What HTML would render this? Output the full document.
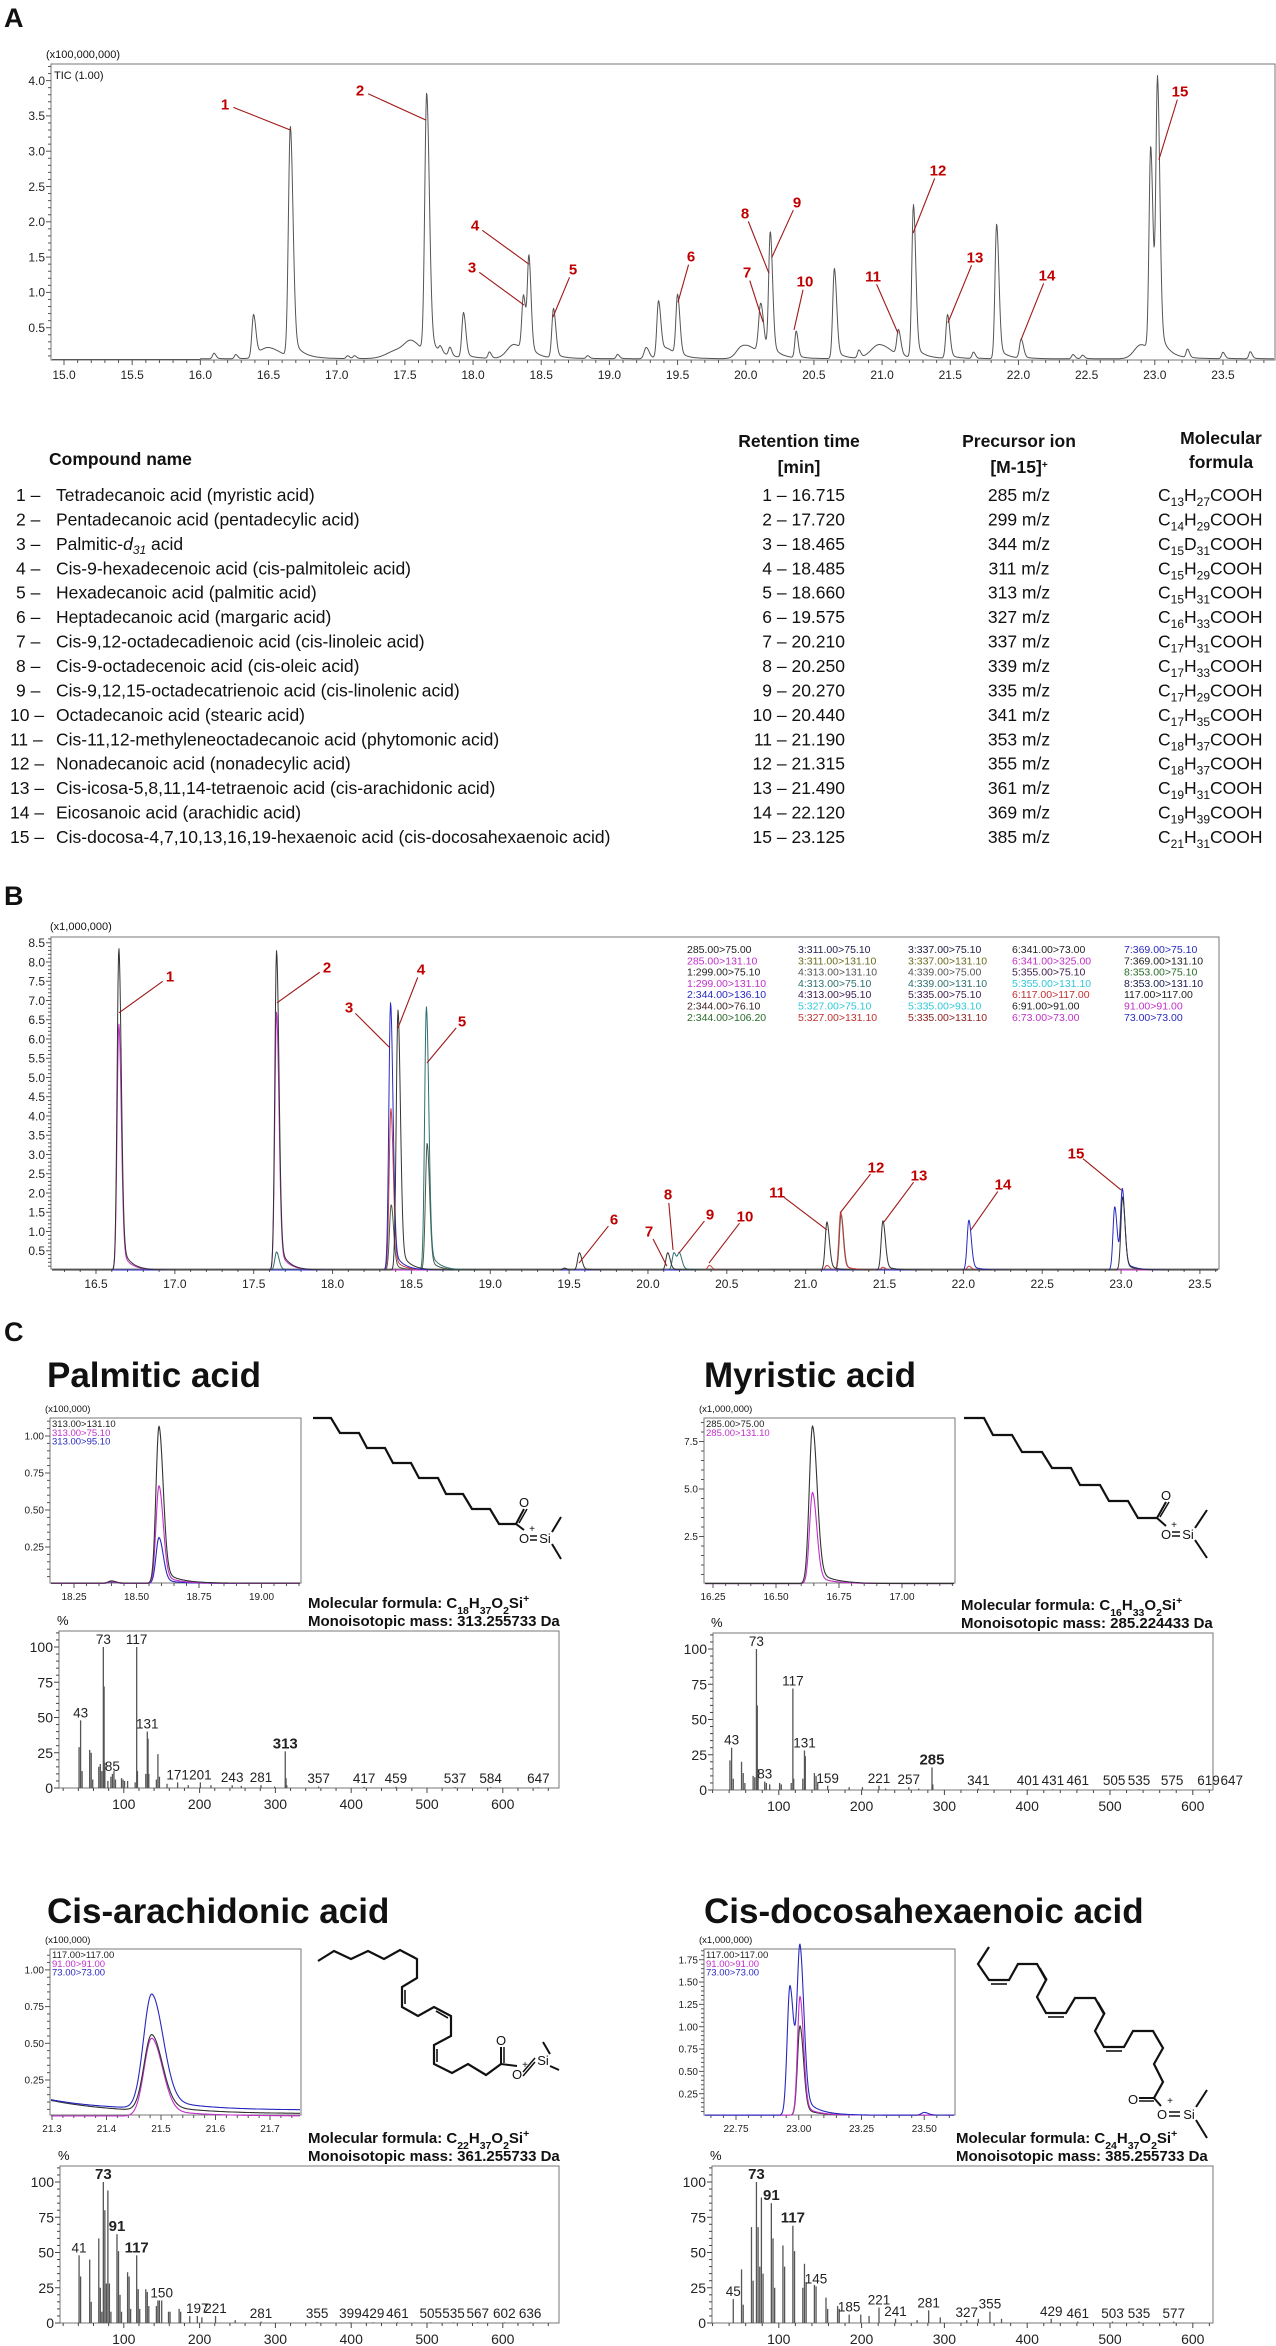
<!DOCTYPE html>
<html><head><meta charset="utf-8">
<style>
html,body{margin:0;padding:0;background:#fff;}
svg{display:block;font-family:"Liberation Sans",Arial,sans-serif;}
</style></head>
<body>
<svg id="fig" width="1276" height="2346" viewBox="0 0 1276 2346" xmlns="http://www.w3.org/2000/svg"></svg>
<script>
// ---------------- DATA ----------------
// Panel A TIC peaks
const A_t = [16.10,16.26,16.39,16.50,16.66,17.08,17.13,17.45,17.55,17.66,17.76,17.83,17.93,18.12,18.30,18.37,18.41,18.59,18.84,19.06,19.27,19.36,19.50,19.42,19.97,20.05,20.11,20.18,20.37,20.65,20.83,20.98,21.12,21.23,21.48,21.67,21.84,22.02,22.40,22.47,22.90,22.97,23.02,23.24,23.50,23.70];
const A_h = [0.08,0.06,0.60,0.15,3.27,0.04,0.04,0.12,0.18,3.69,0.08,0.12,0.64,0.09,0.20,0.78,1.33,0.70,0.04,0.06,0.16,0.78,0.86,0.12,0.14,0.10,0.70,1.74,0.38,1.28,0.11,0.20,0.36,2.17,0.62,0.09,1.91,0.27,0.06,0.05,0.20,2.90,3.80,0.12,0.09,0.10];
const A_w = [0.010,0.010,0.012,0.06,0.014,0.01,0.01,0.08,0.05,0.014,0.01,0.01,0.012,0.01,0.05,0.012,0.011,0.012,0.01,0.01,0.015,0.012,0.012,0.04,0.04,0.06,0.015,0.012,0.010,0.012,0.01,0.06,0.012,0.012,0.012,0.01,0.012,0.012,0.01,0.01,0.05,0.012,0.012,0.01,0.01,0.01];
const A_xticks = [15.0,15.5,16.0,16.5,17.0,17.5,18.0,18.5,19.0,19.5,20.0,20.5,21.0,21.5,22.0,22.5,23.0,23.5];
const A_yticks = [0.5,1.0,1.5,2.0,2.5,3.0,3.5,4.0];
const A_lab_t = [16.66,17.655,18.374,18.41,18.586,19.503,20.127,20.17,20.19,20.354,21.117,21.227,21.483,22.019,23.03];
const A_lab_v = [3.30,3.44,0.82,1.40,0.65,0.86,0.58,1.27,1.49,0.47,0.42,1.84,0.57,0.33,2.88];

// Panel B MRM peaks per colour series
const B_t_black = [16.645,17.645,18.415,19.47,19.565,20.125,21.135,21.49,23.01];
const B_h_black = [8.37,8.30,6.75,0.05,0.45,0.45,1.25,1.28,1.9];
const B_t_mag = [16.645,17.645];
const B_h_mag = [6.4,6.7];
const B_t_blue = [18.368,22.035,22.96,23.008];
const B_h_blue = [6.95,1.3,1.65,2.05];
const B_t_teal = [17.645,18.595,20.165,20.2];
const B_h_teal = [0.47,6.85,0.45,0.4];
const B_t_red = [18.37,20.39,21.135,21.222,21.49,22.035];
const B_h_red = [4.2,0.12,0.12,1.5,0.07,0.1];
const B_t_dark = [18.372,18.6,21.225];
const B_h_dark = [1.7,3.3,1.45];
const B_xticks = [16.5,17.0,17.5,18.0,18.5,19.0,19.5,20.0,20.5,21.0,21.5,22.0,22.5,23.0,23.5];
const B_yticks = [0.5,1.0,1.5,2.0,2.5,3.0,3.5,4.0,4.5,5.0,5.5,6.0,6.5,7.0,7.5,8.0,8.5];
const B_lab_t = [16.646,17.648,18.364,18.415,18.599,19.563,20.12,20.159,20.197,20.387,21.135,21.218,21.497,22.048,23.0];
const B_lab_v = [6.68,6.94,5.77,6.29,5.38,0.18,0.1,0.52,0.44,0.18,1.04,1.48,1.25,1.04,2.08];

// Panel C insets
const pal_ic_t = [18.40,18.59];
const pal_ic_black = [0.015,1.06];
const pal_ic_mag = [0.012,0.66];
const pal_ic_blue = [0.01,0.31];
const myr_ic_t = [16.645];
const myr_ic_black = [8.3];
const myr_ic_mag = [4.8];
const ara_ic_t = [21.483];
const ara_ic_blue = [0.78];
const ara_ic_black = [0.52];
const ara_ic_mag = [0.53];
const dha_ic_t = [22.965,23.005,23.50];
const dha_ic_blue = [1.45,1.80,0.03];
const dha_ic_mag = [0,1.33,0];
const dha_ic_black = [0,1.0,0];

// Panel C mass spectra
const pal_mz = [41,43,45,55,57,59,67,69,71,73,
  74,75,79,83,85,87,89,97,99,101,
  105,115,117,118,129,131,132,133,143,145,
  147,157,171,185,201,215,243,255,281,299,
  313,314,315,357,417,459,537,584,647];
const pal_int = [29,48,12,27,25,6,15,17,12,100,
  72,18,5,8,10,12,6,7,6,5,
  5,4,100,12,10,40,35,10,6,24,
  8,3,4,2,4,2,2,1.5,2,1,
  26,7,2,1,0.8,0.8,0.6,0.6,0.5];
const pal_lab = [43,73,85,117,131,171,201,243,281,313,357,417,459,537,584,647];
const pal_bold = [313];

const myr_mz = [41,43,45,55,57,59,69,71,73,74,
  75,83,85,89,101,103,115,117,118,129,
  131,132,143,145,147,159,185,201,221,229,
  257,269,285,286,341,401,431,461,505,535,
  575,619,647];
const myr_int = [21,30,8,20,12,5,10,9,100,60,
  15,6,5,4,5,4,5,72,8,8,
  28,24,12,10,5,3,2,2,3,1,
  2,1,16,4,1,0.5,0.5,0.5,0.5,0.5,
  0.5,0.5,0.5];
const myr_lab = [43,73,83,117,131,159,221,257,285,341,401,431,461,505,535,575,619,647];
const myr_bold = [285];

const ara_mz = [41,43,55,57,67,69,71,73,75,77,
  79,81,83,91,93,95,97,105,107,109,
  117,119,121,129,131,133,143,145,147,150,
  159,161,173,175,187,197,203,221,247,281,
  355,399,429,461,505,535,567,602,636];
const ara_int = [48,33,45,15,60,25,8,100,80,28,
  94,28,8,63,51,20,8,36,33,10,
  48,24,10,24,22,12,12,16,16,16,
  8,8,10,8,5,5,4,5,2,1,
  0.8,0.5,0.5,0.5,0.5,0.5,0.5,0.5,0.5];
const ara_lab = [41,73,91,117,150,197,221,281,355,399,429,461,505,535,567,602,636];
const ara_bold = [73,91,117];

const dha_mz = [45,55,57,67,69,73,75,77,79,81,
  91,93,95,105,107,117,119,129,131,133,
  143,145,157,159,171,173,185,199,209,221,
  241,267,281,295,327,341,355,369,429,461,
  503,535,577];
const dha_int = [17,38,13,68,30,100,68,40,89,35,
  85,60,25,55,40,69,51,25,42,29,
  27,26,18,10,12,10,6,6,5,11,
  3,2,9,4,2,3,8,3,3,1,
  1,1,1];
const dha_lab = [45,73,91,117,145,185,221,241,281,327,355,429,461,503,535,577];
const dha_bold = [73,91,117];

// Table
const tbl_names = ["Tetradecanoic acid (myristic acid)","Pentadecanoic acid (pentadecylic acid)","Palmitic-d31 acid","Cis-9-hexadecenoic acid (cis-palmitoleic acid)","Hexadecanoic acid (palmitic acid)","Heptadecanoic acid (margaric acid)","Cis-9,12-octadecadienoic acid (cis-linoleic acid)","Cis-9-octadecenoic acid (cis-oleic acid)","Cis-9,12,15-octadecatrienoic acid (cis-linolenic acid)","Octadecanoic acid (stearic acid)","Cis-11,12-methyleneoctadecanoic acid (phytomonic acid)","Nonadecanoic acid (nonadecylic acid)","Cis-icosa-5,8,11,14-tetraenoic acid (cis-arachidonic acid)","Eicosanoic acid (arachidic acid)","Cis-docosa-4,7,10,13,16,19-hexaenoic acid (cis-docosahexaenoic acid)"];
const tbl_rt = ["16.715","17.720","18.465","18.485","18.660","19.575","20.210","20.250","20.270","20.440","21.190","21.315","21.490","22.120","23.125"];
const tbl_ion = [285,299,344,311,313,327,337,339,335,341,353,355,361,369,385];
const tbl_formula = ["C13H27COOH","C14H29COOH","C15D31COOH","C15H29COOH","C15H31COOH","C16H33COOH","C17H31COOH","C17H33COOH","C17H29COOH","C17H35COOH","C18H37COOH","C18H37COOH","C19H31COOH","C19H39COOH","C21H31COOH"];

// ---------------- HELPERS ----------------
const NS = 'http://www.w3.org/2000/svg';
const svg = document.getElementById('fig');
function mk(tag, attrs, parent){
  const e = document.createElementNS(NS, tag);
  for (const k in attrs) e.setAttribute(k, attrs[k]);
  (parent || svg).appendChild(e);
  return e;
}
function grp(name, parent){
  const g = mk('g', {}, parent);
  
  
  return g;
}
function txt(parent, x, y, s, size, opts){
  opts = opts || {};
  const t = mk('text', {x:x, y:y, 'font-size':size, fill:opts.fill||'#111', 'text-anchor':opts.anchor||'start', 'font-weight':opts.weight||'normal'}, parent);
  t.textContent = s;
  
  
  return t;
}
function shape(d){
  return d < 0 ? Math.exp(-d*d/2) : 0.9*Math.exp(-d*d/(2*1.96)) + 0.1*Math.exp(-d/5);
}
function trace(parent, times, heights, w, xf, xinv, yf, px0, px1, base, color, sw, name){
  let d = '';
  for (let px = px0; px <= px1; px += 0.5){
    const t = xinv(px);
    let v = base(t);
    for (let i = 0; i < times.length; i++){
      const ww = Array.isArray(w) ? w[i] : w;
      v += heights[i] * shape((t - times[i]) / ww);
    }
    d += (d ? 'L' : 'M') + px.toFixed(1) + ' ' + yf(v).toFixed(1);
  }
  const p = mk('path', {d:d, fill:'none', stroke:color, 'stroke-width':sw, 'stroke-linejoin':'round'}, parent);
  
  
  return p;
}
function axes(parent, box, xf, yf, xMaj, xMinStep, xLo, xHi, xFmt, yMaj, yMinStep, yLo, yHi, yFmt, fs, tickCol){
  const c = tickCol || '#555';
  const r = mk('rect', {x:box.l, y:box.t, width:box.r-box.l, height:box.b-box.t, fill:'none', stroke:'#777', 'stroke-width':1}, parent);
  
  
  const nX = Math.round((xHi - xLo) / xMinStep);
  for (let i = 0; i <= nX; i++){
    const t = xLo + i * xMinStep, x = xf(t);
    if (x < box.l - 0.5 || x > box.r + 0.5) continue;
    const major = xMaj.some(m => Math.abs(m - t) < xMinStep/10);
    mk('line', {x1:x, x2:x, y1:box.b, y2:box.b + (major ? 5 : 3), stroke:c, 'stroke-width':1}, parent);
  }
  xMaj.forEach(m => { txt(parent, xf(m), box.b + fs + 7, xFmt(m), fs, {anchor:'middle', fill:'#222', name:'x-tick-label'}); });
  const nY = Math.round((yHi - yLo) / yMinStep);
  for (let i = 0; i <= nY; i++){
    const v = yLo + i * yMinStep, y = yf(v);
    if (y < box.t - 0.5 || y > box.b + 0.5) continue;
    const major = yMaj.some(m => Math.abs(m - v) < yMinStep/10);
    mk('line', {x1:box.l - (major ? 5 : 3), x2:box.l, y1:y, y2:y, stroke:c, 'stroke-width':1}, parent);
  }
  yMaj.forEach(m => { txt(parent, box.l - 6, yf(m) + fs*0.36, yFmt(m), fs, {anchor:'end', fill:'#222', name:'y-tick-label'}); });
}
function leader(parent, lx, ly, tx, ty, num, color, fs, name){
  const dx = tx - lx, dy = ty - ly, L = Math.hypot(dx, dy);
  const sx = lx + dx / L * 9, sy = ly + dy / L * 9;
  const ln = mk('line', {x1:sx, y1:sy, x2:tx, y2:ty, stroke:'#a01818', 'stroke-width':1.1}, parent);
  
  
  txt(parent, lx, ly + fs*0.36, String(num), fs, {anchor:'middle', fill:'#c00000', weight:'bold', name:name});
}

// ---------------- PANEL A ----------------
(function(){
  const g = grp('panel-a-tic-chromatogram');
  txt(g, 4, 27, 'A', 27, {weight:'bold', name:'panel-a-letter'});
  const box = {l:51, r:1275, t:64, b:360};
  const xf = t => 64 + (t - 15) * 136.35;
  const xinv = x => 15 + (x - 64) / 136.35;
  const yf = v => 363 - v * 70.6;
  txt(g, 46, 58, '(x100,000,000)', 11, {name:'y-scale-note'});
  axes(g, box, xf, yf, A_xticks, 0.1, 14.9, 23.9, v => v.toFixed(1), A_yticks, 0.1, 0.1, 4.2, v => v.toFixed(1), 12);
  txt(g, 54, 79, 'TIC (1.00)', 11, {name:'tic-legend'});
  trace(g, A_t, A_h, A_w, xf, xinv, yf, 52, 1274, t => 0.06 - 0.01*(t < 16 ? 1 : 0), '#555', 1, 'tic-trace');
  const lx = [225,360,472,475,573,691,747,745,797,805,873,938,975,1047,1180];
  const ly = [104,90,267,225,269,256,272,213,202,281,276,170,257,275,91];
  A_lab_t.forEach((t, i) => leader(g, lx[i], ly[i], xf(t), yf(A_lab_v[i]), i + 1, '#c00000', 15, 'peak-label-a-' + (i+1)));
})();

// ---------------- TABLE ----------------
(function(){
  const g = grp('compound-table');
  const fs = 17.5;
  txt(g, 49, 465, 'Compound name', fs, {weight:'bold', name:'header-compound-name'});
  txt(g, 799, 447, 'Retention time', fs, {weight:'bold', anchor:'middle', name:'header-retention-time'});
  txt(g, 799, 473, '[min]', fs, {weight:'bold', anchor:'middle', name:'header-retention-unit'});
  txt(g, 1019, 447, 'Precursor ion', fs, {weight:'bold', anchor:'middle', name:'header-precursor-ion'});
  const h = txt(g, 1019, 473, '[M-15]', fs, {weight:'bold', anchor:'middle', name:'header-precursor-unit'});
  const sp = mk('tspan', {'baseline-shift':'super', 'font-size':10}, h); sp.textContent = '+';
  txt(g, 1221, 444, 'Molecular', fs, {weight:'bold', anchor:'middle', name:'header-molecular'});
  txt(g, 1221, 468, 'formula', fs, {weight:'bold', anchor:'middle', name:'header-formula'});
  tbl_names.forEach((n, i) => {
    const y = 501 + i * 24.43;
    const num = i + 1;
    const row = grp('table-row-' + num, g);
    txt(row, num < 10 ? 16 : 10, y, num + ' \u2013', fs, {name:'row-number'});
    const t = txt(row, 56, y, '', fs, {name:'compound-name'});
    if (n.indexOf('-d31') >= 0){
      const a = mk('tspan', {}, t); a.textContent = 'Palmitic-';
      const b = mk('tspan', {'font-style':'italic'}, t); b.textContent = 'd';
      const c = mk('tspan', {'font-style':'italic', 'font-size':12, dy:4}, t); c.textContent = '31';
      const d = mk('tspan', {dy:-4}, t); d.textContent = ' acid';
    } else t.textContent = n;
    txt(row, 845, y, num + ' \u2013 ' + tbl_rt[i], fs, {anchor:'end', name:'retention-time'});
    txt(row, 1019, y, tbl_ion[i] + ' m/z', fs, {anchor:'middle', name:'precursor-ion'});
    const f = txt(row, 1158, y, '', fs, {name:'molecular-formula'});
    const parts = tbl_formula[i].match(/[A-Z][a-z]?|\d+/g);
    let sub = false;
    parts.forEach(p => {
      const isNum = /^\d/.test(p);
      const s = mk('tspan', isNum ? {'font-size':12, dy: sub ? 0 : 5} : {dy: sub ? -5 : 0}, f);
      s.textContent = p; sub = isNum;
    });
  });
})();

// ---------------- PANEL B ----------------
(function(){
  const g = grp('panel-b-mrm-chromatogram');
  txt(g, 4, 905, 'B', 27, {weight:'bold', name:'panel-b-letter'});
  const box = {l:51, r:1219, t:937, b:1269};
  const xf = t => 96 + (t - 16.5) * 157.7;
  const xinv = x => 16.5 + (x - 96) / 157.7;
  const yf = v => 1270 - v * 38.5;
  txt(g, 50, 930, '(x1,000,000)', 11, {name:'y-scale-note'});
  axes(g, box, xf, yf, B_xticks, 0.1, 16.3, 23.6, v => v.toFixed(1), B_yticks, 0.1, 0.1, 8.6, v => v.toFixed(1), 12);
  const z = t => 0;
  trace(g, B_t_dark, B_h_dark, 0.011, xf, xinv, yf, 52, 1218, z, '#4a5a4a', 1, 'trace-dark');
  trace(g, B_t_red, B_h_red, 0.011, xf, xinv, yf, 52, 1218, z, '#c84040', 1, 'trace-red');
  trace(g, B_t_teal, B_h_teal, 0.011, xf, xinv, yf, 52, 1218, z, '#2f6f6f', 1, 'trace-teal');
  trace(g, B_t_mag, B_h_mag, 0.011, xf, xinv, yf, 52, 1218, z, '#c030c8', 1, 'trace-magenta');
  trace(g, B_t_blue, B_h_blue, 0.011, xf, xinv, yf, 52, 1218, z, '#2828c0', 1, 'trace-blue');
  trace(g, B_t_black, B_h_black, 0.011, xf, xinv, yf, 52, 1218, z, '#333', 1, 'trace-black');
  const lx = [170,327,349,421,462,614,649,668,710,745,777,876,919,1003,1076];
  const ly = [976,967,1007,969,1021,1219,1231,1194,1214,1216,1192,1167,1175,1184,1153];
  B_lab_t.forEach((t, i) => leader(g, lx[i], ly[i], xf(t), yf(B_lab_v[i]), i + 1, '#c00000', 15, 'peak-label-b-' + (i+1)));
  const leg = [
    [['285.00>75.00','#222'],['285.00>131.10','#c030c8'],['1:299.00>75.10','#222'],['1:299.00>131.10','#c030c8'],['2:344.00>136.10','#2828c0'],['2:344.00>76.10','#3a2020'],['2:344.00>106.20','#2a6a2a']],
    [['3:311.00>75.10','#202050'],['3:311.00>131.10','#6a6a20'],['4:313.00>131.10','#555'],['4:313.00>75.10','#2f6f6f'],['4:313.00>95.10','#402050'],['5:327.00>75.10','#30c8d8'],['5:327.00>131.10','#c03030']],
    [['3:337.00>75.10','#202040'],['3:337.00>131.10','#6a6a20'],['4:339.00>75.00','#555'],['4:339.00>131.10','#2f6f6f'],['5:335.00>75.10','#402050'],['5:335.00>93.10','#30c8d8'],['5:335.00>131.10','#902020']],
    [['6:341.00>73.00','#222'],['6:341.00>325.00','#c030c8'],['5:355.00>75.10','#402050'],['5:355.00>131.10','#30c8d8'],['6:117.00>117.00','#c03030'],['6:91.00>91.00','#222'],['6:73.00>73.00','#c030c8']],
    [['7:369.00>75.10','#2828c0'],['7:369.00>131.10','#222'],['8:353.00>75.10','#2a6a2a'],['8:353.00>131.10','#202050'],['117.00>117.00','#222'],['91.00>91.00','#c030c8'],['73.00>73.00','#2828c0']]
  ];
  const colX = [687,798,908,1012,1124];
  const lg = grp('mrm-legend', g);
  leg.forEach((col, ci) => col.forEach((e, ri) => txt(lg, colX[ci], 953 + ri * 11.3, e[0], 10.5, {fill:e[1], name:'legend-entry'})));
})();

// ---------------- PANEL C ----------------
txt(svg, 4, 1341, 'C', 27, {weight:'bold', name:'panel-c-letter'});

function inset(name, box, xf, xinv, yf, xMaj, xMin, xLo, xHi, xFmt, yMaj, yMin, yHi, yFmt, scale, legend, series){
  const g = grp(name);
  txt(g, box.l - 5, box.t - 6, scale, 9.5, {name:'y-scale-note'});
  axes(g, box, xf, yf, xMaj, xMin, xLo, xHi, xFmt, yMaj, yMin, yMin, yHi, yFmt, 10);
  series.forEach(s => trace(g, s.t, s.h, s.w, xf, xinv, yf, box.l + 1, box.r - 1, s.base, s.color, 1.1, s.name));
  legend.forEach((e, i) => txt(g, box.l + 2, box.t + 9 + i * 8.8, e[0], 9.5, {fill:e[1], name:'inset-legend-entry'}));
}
function spectrum(name, box, xf, yf, mz, inten, labs, bold, xMaj, xLo, xHi){
  const g = grp(name);
  txt(g, box.l - 2, box.t - 6, '%', 13, {name:'y-unit'});
  axes(g, box, xf, yf, xMaj, 20, xLo, xHi, v => String(v), [0,25,50,75,100], 5, 0, 110, v => String(v), 14, '#444');
  mz.forEach((m, i) => {
    const x = xf(m);
    if (x < box.l || x > box.r) return;
    const b = mk('line', {x1:x, x2:x, y1:yf(0), y2:yf(inten[i]), stroke:'#555', 'stroke-width':1.3}, g);
    
    
  });
  labs.forEach(m => {
    const i = mz.indexOf(m);
    const v = i >= 0 ? inten[i] : 0;
    const isB = bold.indexOf(m) >= 0;
    txt(g, xf(m), Math.min(yf(v) - 3, yf(0) - 5), String(m), isB ? 15 : 13.5, {anchor:'middle', weight:isB ? 'bold' : 'normal', fill:'#222', name:'mz-label'});
  });
}
function structure(name, pts, extras){
  const g = grp(name);
  const p = mk('polyline', {points:pts.map(q => q.join(',')).join(' '), fill:'none', stroke:'#111', 'stroke-width':2.2, 'stroke-linejoin':'miter'}, g);
  
  
  extras(g);
}
function formulaText(x, y, c, h, mass){
  const g = grp('molecular-info');
  const t = txt(g, x, y, 'Molecular formula: C', 15, {weight:'bold', name:'molecular-formula'});
  [[c,1],['H',0],[h,1],['O',0],['2',1],['Si',0]].forEach(p => {
    const s = mk('tspan', p[1] ? {'font-size':10.5, 'baseline-shift':'sub'} : {}, t); s.textContent = p[0];
  });
  const s2 = mk('tspan', {'font-size':10.5, 'baseline-shift':'super'}, t); s2.textContent = '+';
  txt(g, x, y + 18, 'Monoisotopic mass: ' + mass + ' Da', 15, {weight:'bold', name:'monoisotopic-mass'});
}
function esterTail(g, cx, cy, oTopX, oTopY, oX, oY, siX, siY, m1, m2){
  mk('line', {x1:cx, y1:cy, x2:oTopX, y2:oTopY + 6, stroke:'#111', 'stroke-width':2}, g);
  mk('line', {x1:cx + 3, y1:cy - 1, x2:oTopX + 3, y2:oTopY + 6, stroke:'#111', 'stroke-width':1.5}, g);
  mk('line', {x1:cx, y1:cy, x2:oX, y2:oY - 8, stroke:'#111', 'stroke-width':2}, g);
  txt(g, oTopX, oTopY + 4, 'O', 13, {anchor:'middle', name:'oxygen-atom'});
  txt(g, oX, oY + 5, 'O', 13, {anchor:'middle', name:'oxygen-atom'});
  txt(g, oX + 8, oY - 6, '+', 10, {anchor:'middle', name:'charge'});
  mk('line', {x1:oX + 6, y1:oY - 2, x2:siX - 8, y2:siY - 2, stroke:'#111', 'stroke-width':1.5}, g);
  mk('line', {x1:oX + 6, y1:oY + 2, x2:siX - 8, y2:siY + 2, stroke:'#111', 'stroke-width':1.5}, g);
  txt(g, siX, siY + 5, 'Si', 13, {anchor:'middle', name:'silicon-atom'});
  mk('line', {x1:siX + 7, y1:siY - 6, x2:m1[0], y2:m1[1], stroke:'#111', 'stroke-width':2}, g);
  mk('line', {x1:siX + 7, y1:siY + 6, x2:m2[0], y2:m2[1], stroke:'#111', 'stroke-width':2}, g);
}

// Palmitic
txt(svg, 47, 1387, 'Palmitic acid', 35, {weight:'bold', name:'palmitic-title'});
inset('palmitic-chromatogram', {l:50, r:301, t:1418, b:1583}, t => 74 + (t - 18.25) * 250, x => 18.25 + (x - 74) / 250, v => 1584 - v * 148,
  [18.25,18.50,18.75,19.00], 0.05, 18.15, 19.15, v => v.toFixed(2), [0.25,0.50,0.75,1.00], 0.05, 1.1, v => v.toFixed(2), '(x100,000)',
  [['313.00>131.10','#222'],['313.00>75.10','#c030c8'],['313.00>95.10','#2828c0']],
  [{t:pal_ic_t, h:pal_ic_blue, w:0.012, base:t => 0.004, color:'#2828c0', name:'trace-95'},
   {t:pal_ic_t, h:pal_ic_mag, w:0.012, base:t => 0.004, color:'#c030c8', name:'trace-75'},
   {t:pal_ic_t, h:pal_ic_black, w:0.012, base:t => 0.006, color:'#333', name:'trace-131'}]);
structure('palmitic-structure', [[313,1418],[331,1418],[340,1433],[359,1433],[367,1448],[385,1448],[393,1463],[411,1463],[419,1478],[438,1478],[446,1494],[463,1494],[472,1509],[490,1509],[499,1524],[516,1524]],
  g => esterTail(g, 516, 1524, 524, 1503, 524, 1538, 545, 1538, [561,1517], [561,1559]));
formulaText(308, 1608, '18', '37', '313.255733');
spectrum('palmitic-mass-spectrum', {l:59, r:559, t:1631, b:1788}, m => 48 + m * 0.758, p => 1788 - p * 1.41, pal_mz, pal_int, pal_lab, pal_bold, [100,200,300,400,500,600], 20, 660);

// Myristic
txt(svg, 704, 1387, 'Myristic acid', 35, {weight:'bold', name:'myristic-title'});
inset('myristic-chromatogram', {l:704, r:955, t:1418, b:1583}, t => 713 + (t - 16.25) * 252, x => 16.25 + (x - 713) / 252, v => 1584 - v * 19,
  [16.25,16.50,16.75,17.00], 0.05, 16.2, 17.25, v => v.toFixed(2), [2.5,5.0,7.5], 0.5, 8.5, v => v.toFixed(1), '(x1,000,000)',
  [['285.00>75.00','#222'],['285.00>131.10','#c030c8']],
  [{t:myr_ic_t, h:myr_ic_mag, w:0.012, base:t => 0.02, color:'#c030c8', name:'trace-131'},
   {t:myr_ic_t, h:myr_ic_black, w:0.013, base:t => 0.02, color:'#333', name:'trace-75'}]);
structure('myristic-structure', [[964,1418],[984,1418],[993,1435],[1012,1435],[1022,1452],[1042,1452],[1052,1468],[1071,1468],[1080,1485],[1100,1485],[1109,1501],[1128,1501],[1138,1518],[1157,1518]],
  g => esterTail(g, 1157, 1518, 1166, 1496, 1166, 1534, 1188, 1534, [1207,1510], [1207,1558]));
formulaText(961, 1610, '16', '33', '285.224433');
spectrum('myristic-mass-spectrum', {l:713, r:1213, t:1633, b:1790}, m => 696 + m * 0.828, p => 1790 - p * 1.41, myr_mz, myr_int, myr_lab, myr_bold, [100,200,300,400,500,600], 20, 640);

// Arachidonic
txt(svg, 47, 1923, 'Cis-arachidonic acid', 35, {weight:'bold', name:'arachidonic-title'});
inset('arachidonic-chromatogram', {l:50, r:301, t:1949, b:2115}, t => 52 + (t - 21.3) * 545, x => 21.3 + (x - 52) / 545, v => 2116.7 - v * 146.8,
  [21.3,21.4,21.5,21.6,21.7], 0.02, 21.28, 21.78, v => v.toFixed(1), [0.25,0.50,0.75,1.00], 0.05, 1.1, v => v.toFixed(2), '(x100,000)',
  [['117.00>117.00','#222'],['91.00>91.00','#c030c8'],['73.00>73.00','#2828c0']],
  [{t:ara_ic_t, h:ara_ic_mag, w:0.014, base:t => 0.005, color:'#c030c8', name:'trace-91'},
   {t:ara_ic_t, h:ara_ic_black, w:0.014, base:t => 0.02 + 0.09 * Math.exp(-(t - 21.3) / 0.12), color:'#333', name:'trace-117'},
   {t:ara_ic_t, h:ara_ic_blue, w:0.015, base:t => 0.045 + 0.07 * Math.exp(-(t - 21.3) / 0.1), color:'#2828c0', name:'trace-73'}]);
structure('arachidonic-structure', [[318,1961],[334,1951],[351,1959],[368,1951],[384,1959],[400,1950],[417,1959],[417,1978],[402,1987],[402,2007],[418,2016],[434,2007],[451,2016],[451,2036],[434,2045],[434,2064],[452,2073],[468,2064],[486,2075],[501,2064]],
  g => {
    [[[403,1952],[414,1957]],[[405,1990],[405,2004]],[[436,2011],[448,2018]],[[437,2049],[437,2062]]].forEach(s => mk('line', {x1:s[0][0], y1:s[0][1], x2:s[1][0], y2:s[1][1], stroke:'#111', 'stroke-width':1.6}, g));
    esterTail(g, 501, 2064, 501, 2041, 517, 2074, 543, 2060, [543,2042], [559,2070]);
  });
formulaText(308, 2143, '22', '37', '361.255733');
spectrum('arachidonic-mass-spectrum', {l:60, r:559, t:2166, b:2323}, m => 48 + m * 0.758, p => 2323 - p * 1.41, ara_mz, ara_int, ara_lab, ara_bold, [100,200,300,400,500,600], 20, 660);

// DHA
txt(svg, 704, 1923, 'Cis-docosahexaenoic acid', 35, {weight:'bold', name:'dha-title'});
inset('dha-chromatogram', {l:704, r:955, t:1949, b:2115}, t => 736 + (t - 22.75) * 251, x => 22.75 + (x - 736) / 251, v => 2116 - v * 89.3,
  [22.75,23.00,23.25,23.50], 0.05, 22.6, 23.65, v => v.toFixed(2), [0.25,0.50,0.75,1.00,1.25,1.50,1.75], 0.05, 1.85, v => v.toFixed(2), '(x1,000,000)',
  [['117.00>117.00','#222'],['91.00>91.00','#c030c8'],['73.00>73.00','#2828c0']],
  [{t:dha_ic_t, h:dha_ic_black, w:0.01, base:t => 0.01, color:'#333', name:'trace-117'},
   {t:dha_ic_t, h:dha_ic_mag, w:0.01, base:t => 0.01, color:'#c030c8', name:'trace-91'},
   {t:dha_ic_t, h:dha_ic_blue, w:0.011, base:t => 0.01, color:'#2828c0', name:'trace-73'}]);
structure('dha-structure', [[989,1947],[978,1964],[989,1980],[1009,1980],[1018,1964],[1037,1964],[1046,1980],[1037,1997],[1046,2013],[1066,2013],[1075,1998],[1095,1998],[1104,2014],[1095,2031],[1104,2047],[1124,2047],[1133,2031],[1153,2031],[1163,2048],[1154,2064],[1163,2082],[1154,2098]],
  g => {
    [[[991,1984],[1007,1984]],[[1040,1968],[1047,1980]],[[1048,2017],[1064,2017]],[[1098,2002],[1105,2014]],[[1106,2051],[1122,2051]],[[1155,2035],[1162,2047]]].forEach(s => mk('line', {x1:s[0][0], y1:s[0][1], x2:s[1][0], y2:s[1][1], stroke:'#111', 'stroke-width':1.6}, g));
    mk('line', {x1:1154, y1:2098, x2:1139, y2:2098, stroke:'#111', 'stroke-width':2}, g);
    mk('line', {x1:1154, y1:2101, x2:1139, y2:2101, stroke:'#111', 'stroke-width':1.5}, g);
    txt(g, 1133, 2104, 'O', 13, {anchor:'middle', name:'oxygen-atom'});
    mk('line', {x1:1154, y1:2098, x2:1161, y2:2106, stroke:'#111', 'stroke-width':2}, g);
    txt(g, 1162, 2119, 'O', 13, {anchor:'middle', name:'oxygen-atom'});
    txt(g, 1170, 2104, '+', 10, {anchor:'middle', name:'charge'});
    mk('line', {x1:1169, y1:2112, x2:1180, y2:2112, stroke:'#111', 'stroke-width':1.5}, g);
    mk('line', {x1:1169, y1:2116, x2:1180, y2:2116, stroke:'#111', 'stroke-width':1.5}, g);
    txt(g, 1189, 2119, 'Si', 13, {anchor:'middle', name:'silicon-atom'});
    mk('line', {x1:1196, y1:2107, x2:1207, y2:2090, stroke:'#111', 'stroke-width':2}, g);
    mk('line', {x1:1196, y1:2120, x2:1207, y2:2138, stroke:'#111', 'stroke-width':2}, g);
  });
formulaText(956, 2143, '24', '37', '385.255733');
spectrum('dha-mass-spectrum', {l:712, r:1213, t:2166, b:2323}, m => 696 + m * 0.828, p => 2323 - p * 1.41, dha_mz, dha_int, dha_lab, dha_bold, [100,200,300,400,500,600], 20, 640);
</script>
</body></html>
